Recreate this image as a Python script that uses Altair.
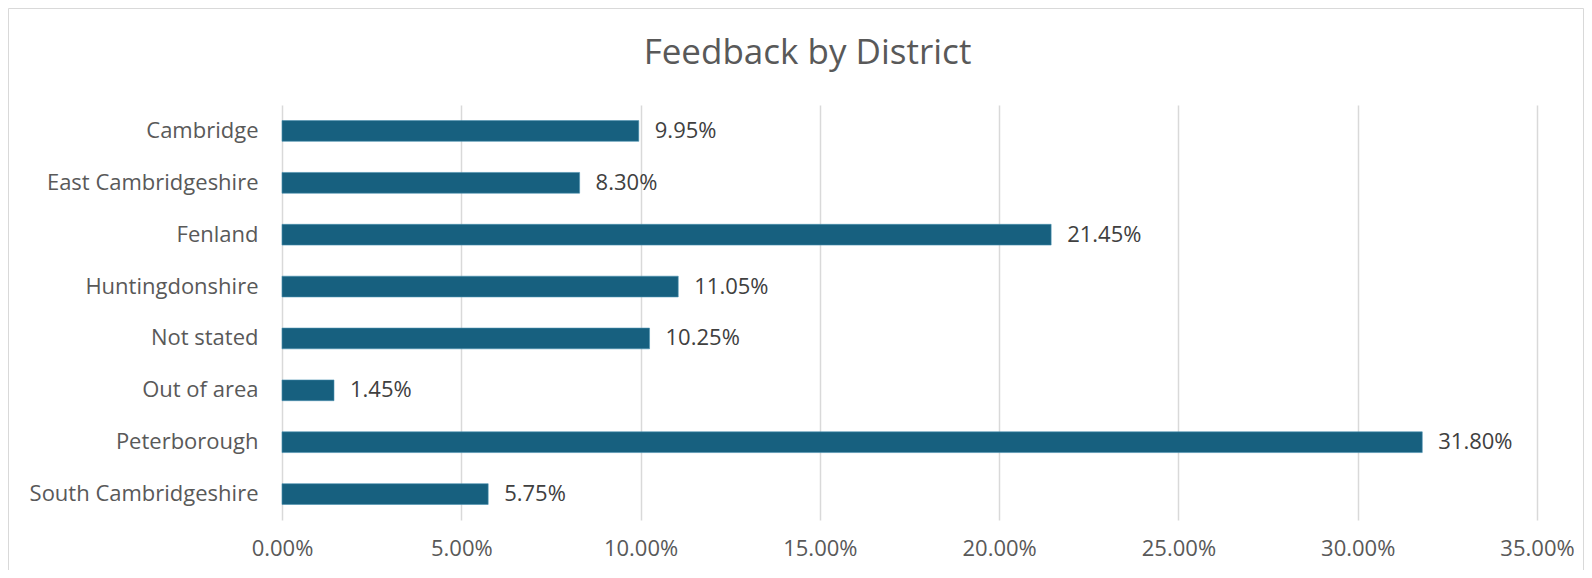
import altair as alt
import pandas as pd

districts = ["Cambridge", "East Cambridgeshire", "Fenland", "Huntingdonshire",
             "Not stated", "Out of area", "Peterborough", "South Cambridgeshire"]
shares = [0.0995, 0.0830, 0.2145, 0.1105, 0.1025, 0.0145, 0.3180, 0.0575]
x_ticks = [0.0, 0.05, 0.10, 0.15, 0.20, 0.25, 0.30, 0.35]

df = pd.DataFrame({"district": districts, "share": shares})

FONT = "Open Sans"
TXT = "#595959"
FS = 22

y_enc = alt.Y("district:N", sort=districts, title=None,
              scale=alt.Scale(paddingInner=0.6, paddingOuter=0.3),
              axis=alt.Axis(labelFontSize=FS, labelColor=TXT, labelFont=FONT,
                            ticks=False, domain=False, grid=False, labelPadding=24,
                            labelLimit=400))
x_enc = alt.X("share:Q", title=None,
              scale=alt.Scale(domain=[0, 0.35], nice=False),
              axis=alt.Axis(values=x_ticks, format=".2%", labelFontSize=FS,
                            labelColor=TXT, labelFont=FONT, ticks=False, domain=False,
                            grid=True, gridColor="#D9D9D9", gridWidth=1.5,
                            labelPadding=18, labelFlush=False))

bars = alt.Chart(df).mark_bar(color="#17607F", stroke="#4A90B0", strokeWidth=0.6).encode(
    x=x_enc, y=y_enc)

labels = alt.Chart(df).mark_text(align="left", baseline="middle", dx=16, fontSize=FS,
                                 font=FONT, color="#404040").encode(
    x="share:Q", y=alt.Y("district:N", sort=districts),
    text=alt.Text("share:Q", format=".2%"))

border = alt.Chart(pd.DataFrame({"k": [0]})).mark_rect(
    fill=None, stroke="#D9D9D9", strokeWidth=1).encode(
    x=alt.value(-273.5), x2=alt.value(1301.5), y=alt.value(-96.5), y2=alt.value(500))

chart = alt.layer(border, bars, labels).properties(
    width=1255, height=415,
    title=alt.TitleParams("Feedback by District", fontSize=35, font=FONT,
                          color=TXT, fontWeight="normal", dx=-102, offset=-63,
                          frame="group", anchor="middle"),
    autosize=alt.AutoSizeParams(type="none"),
    padding={"left": 274, "top": 97, "right": 47, "bottom": 50},
).configure(background="white").configure_view(stroke=None)

chart.save("out.html", embed_options={"renderer": "svg", "actions": False})
